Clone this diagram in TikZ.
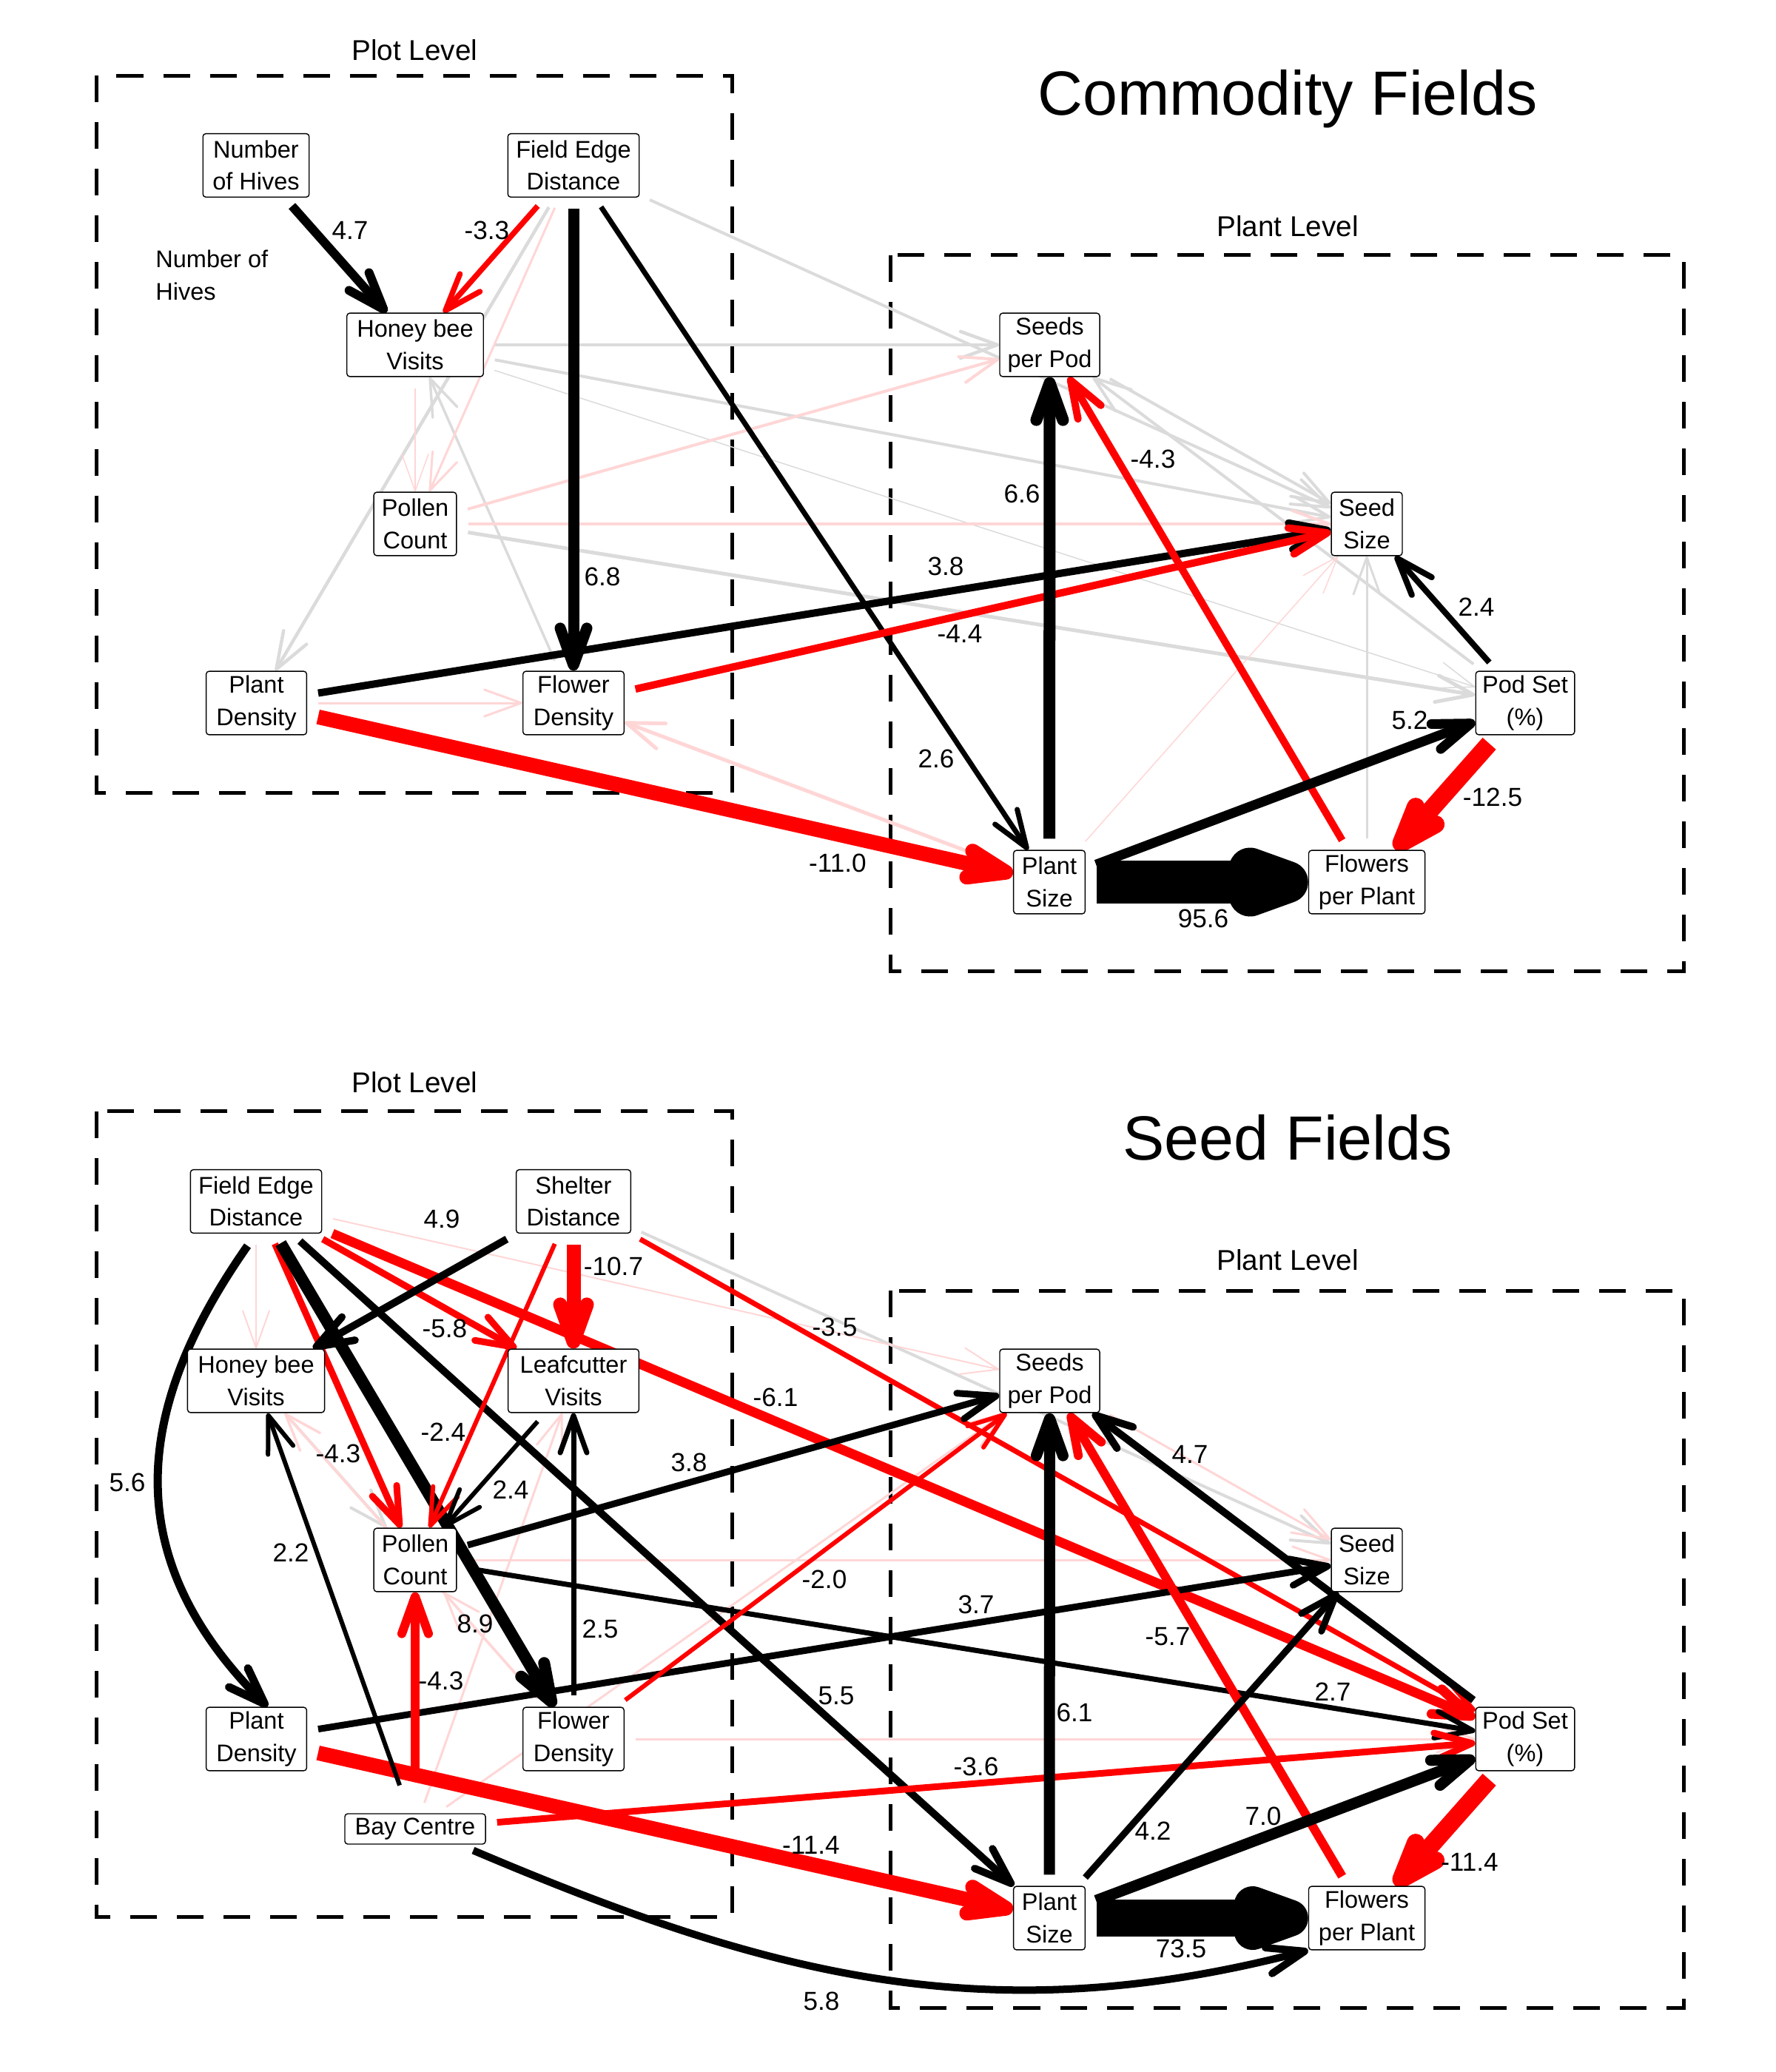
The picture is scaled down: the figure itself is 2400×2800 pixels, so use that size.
\documentclass[tikz,border=0pt]{standalone}
\usepackage{fontspec}
\setmainfont{Liberation Sans}
\usetikzlibrary{arrows.meta}
\pgfdeclarelayer{edgelayer}
\pgfsetlayers{edgelayer,main}
\newcommand\nfont{\fontsize{9.25}{12.4}\selectfont}
\newcommand\lfont{\fontsize{10}{12}\selectfont}
\newcommand\tfont{\fontsize{24}{28}\selectfont}
\newcommand\hfont{\fontsize{11}{13}\selectfont}
\begin{document}
\begin{tikzpicture}[x=0.01cm,y=-0.01cm,
  box/.style={draw=black, line width=0.014cm, rounded corners=0.04cm, fill=white, font=\nfont, align=center, inner xsep=0pt, inner ysep=0pt, minimum height=0.857cm},
  lab/.style={font=\lfont, inner sep=0pt},
  lvl/.style={font=\hfont, inner sep=0pt},
  dbox/.style={draw=black, line width=0.05cm, dash pattern=on 0.36cm off 0.27cm},
  ed/.style={-{Straight Barb[length=0.5cm,width=0.36cm,round]}, shorten <=0.15cm, line cap=butt},
  epos/.style={ed, draw=black},
  eneg/.style={ed, draw=red},
  egray/.style={ed, draw=black!14},
  epink/.style={ed, draw=red!16},
  lw/.style={line width=#1*0.1mm}
]
\useasboundingbox (0,0) rectangle (2400,2800);

% titles and level labels
\node[font=\tfont, inner sep=0pt] (title1) at (1740,134) {Commodity Fields};
\node[font=\tfont, inner sep=0pt] (title2) at (1740,1537) {Seed Fields};
\node[lvl] (plot1) at (560.5,68) {Plot Level};
\node[lvl] (plot2) at (560.5,1463) {Plot Level};
\node[lvl] (plant1) at (1740,306) {Plant Level};
\node[lvl] (plant2) at (1740,1703) {Plant Level};
\node[font=\nfont, anchor=west, align=left, inner sep=0pt] (hivenote) at (209.7,372) {Number of\\Hives};

% ---------- top panel nodes ----------
\node[box, minimum width=1.435cm] (T-NH) at (346,223.5) {Number\\of Hives};
\node[box, minimum width=1.773cm] (T-FED) at (775,223.5) {Field Edge\\Distance};
\node[box, minimum width=1.844cm] (T-HBV) at (561,466) {Honey bee\\Visits};
\node[box, minimum width=1.116cm] (T-PC) at (561,708) {Pollen\\Count};
\node[box, minimum width=1.358cm] (T-PD) at (346.5,950) {Plant\\Density};
\node[box, minimum width=1.365cm] (T-FD) at (775,950) {Flower\\Density};
\node[box, minimum width=1.35cm] (T-SPP) at (1418.5,466) {Seeds\\per Pod};
\node[box, minimum width=0.958cm] (T-SS) at (1847,708) {Seed\\Size};
\node[box, minimum width=1.335cm] (T-PS) at (2061,950) {Pod Set\\(\%)};
\node[box, minimum width=0.967cm] (T-PlS) at (1418,1192) {Plant\\Size};
\node[box, minimum width=1.57cm] (T-FPP) at (1847,1192) {Flowers\\per Plant};

% ---------- bottom panel nodes ----------
\node[box, minimum width=1.773cm] (B-FED) at (346,1623.5) {Field Edge\\Distance};
\node[box, minimum width=1.546cm] (B-SD) at (775,1623.5) {Shelter\\Distance};
\node[box, minimum width=1.85cm] (B-HBV) at (346,1866) {Honey bee\\Visits};
\node[box, minimum width=1.767cm] (B-LV) at (775,1866) {Leafcutter\\Visits};
\node[box, minimum width=1.116cm] (B-PC) at (561,2108) {Pollen\\Count};
\node[box, minimum width=1.358cm] (B-PD) at (346.5,2350) {Plant\\Density};
\node[box, minimum width=1.365cm] (B-FD) at (775,2350) {Flower\\Density};
\node[box, minimum width=1.9cm, minimum height=0.41cm] (B-BC) at (561,2471.5) {Bay Centre};
\node[box, minimum width=1.35cm] (B-SPP) at (1418.5,1866) {Seeds\\per Pod};
\node[box, minimum width=0.958cm] (B-SS) at (1847,2108) {Seed\\Size};
\node[box, minimum width=1.335cm] (B-PS) at (2061,2350) {Pod Set\\(\%)};
\node[box, minimum width=0.967cm] (B-PlS) at (1418,2592) {Plant\\Size};
\node[box, minimum width=1.57cm] (B-FPP) at (1847,2592) {Flowers\\per Plant};

\begin{pgfonlayer}{edgelayer}
% dashed level boxes
\draw[dbox] (130.6,102.2) rectangle (989.6,1071.2);
\draw[dbox] (1203.6,344.9) rectangle (2275.8,1312.5);
\draw[dbox] (130.6,1501.9) rectangle (989.6,2590.9);
\draw[dbox] (1203.6,1744.2) rectangle (2275.8,2713);

% ---------- top panel: non-significant ----------
\draw[egray, lw=4] (T-FED) -- (T-SS);
\draw[egray, lw=4.5] (T-FED) -- (T-PD);
\draw[egray, lw=4.5] (T-HBV) -- (T-SPP);
\draw[egray, lw=4] (T-HBV) -- (T-SS);
\draw[egray, lw=1.5] (T-HBV) -- (T-PS);
\draw[egray, lw=3.5] (T-FD) -- (T-HBV);
\draw[egray, lw=5] (T-PC) -- (T-PS);
\draw[egray, lw=3] (T-FPP) -- (T-SS);
\draw[egray, lw=4] (T-SPP) -- (T-SS);
\draw[egray, lw=4] (T-PS) -- (T-SPP);
\draw[epink, lw=3] (T-FED) -- (T-PC);
\draw[epink, lw=1.5] (T-HBV) -- (T-PC);
\draw[epink, lw=4] (T-PC) -- (T-SPP);
\draw[epink, lw=4] (T-PC) -- (T-SS);
\draw[epink, lw=3] (T-PD) -- (T-FD);
\draw[epink, lw=5] (T-PlS) -- (T-FD);
\draw[epink, lw=1.5] (T-PlS) -- (T-SS);

% ---------- top panel: significant ----------
\draw[epos, lw=12] (T-NH) -- (T-HBV);
\draw[eneg, lw=7.5] (T-FED) -- (T-HBV);
\draw[epos, lw=15] (T-FED) -- (T-FD);
\draw[epos, lw=7] (T-FED) -- (T-PlS);
\draw[epos, lw=10] (T-PD) -- (T-SS);
\draw[eneg, lw=10] (T-FD) -- (T-SS);
\draw[eneg, lw=20] (T-PD) -- (T-PlS);
\draw[epos, lw=16] (T-PlS) -- (T-SPP);
\draw[eneg, lw=10] (T-FPP) -- (T-SPP);
\draw[epos, lw=8] (T-PS) -- (T-SS);
\draw[epos, lw=13] (T-PlS) -- (T-PS);
\draw[eneg, lw=24] (T-PS) -- (T-FPP);
\draw[epos, lw=57] (T-PlS) -- (T-FPP);

% ---------- bottom panel: non-significant ----------
\draw[egray, lw=4] (B-SD) -- (B-SS);
\draw[egray, lw=4] (B-HBV) -- (B-PC);
\draw[epink, lw=2] (B-FED) -- (B-HBV);
\draw[epink, lw=2] (B-FED) -- (B-SPP);
\draw[epink, lw=3.5] (B-FD) -- (B-HBV);
\draw[epink, lw=3] (B-FD) -- (B-PC);
\draw[epink, lw=3] (B-BC) -- (B-LV);
\draw[epink, lw=3] (B-BC) -- (B-SPP);
\draw[epink, lw=3] (B-PC) -- (B-SS);
\draw[epink, lw=3] (B-FD) -- (B-PS);
\draw[epink, lw=3] (B-SPP) -- (B-SS);

% ---------- bottom panel: significant ----------
\draw[epos, lw=11, shorten <=0.2cm] (B-FED.south) to[out=-125, in=135, looseness=1.15] ([xshift=0.15cm]B-PD.north);
\draw[eneg, lw=9] (B-FED) -- (B-PC);
\draw[epos, lw=16] (B-FED) -- (B-FD);
\draw[epos, lw=10] (B-FED) -- (B-PlS);
\draw[eneg, lw=9] (B-FED) -- (B-LV);
\draw[eneg, lw=13] (B-FED) -- (B-PS);
\draw[epos, lw=10] (B-SD) -- (B-HBV);
\draw[eneg, lw=6] (B-SD) -- (B-PC);
\draw[eneg, lw=19] (B-SD) -- (B-LV);
\draw[eneg, lw=7] (B-SD) -- (B-PS);
\draw[epos, lw=6] (B-LV) -- (B-PC);
\draw[epos, lw=7] (B-FD) -- (B-LV);
\draw[epos, lw=9] (B-PC) -- (B-SPP);
\draw[epos, lw=7] (B-PC) -- (B-PS);
\draw[epos, lw=9] (B-PD) -- (B-SS);
\draw[eneg, lw=20] (B-PD) -- (B-PlS);
\draw[eneg, lw=6] (B-FD) -- (B-SPP);
\draw[eneg, lw=12, shorten <=0.6cm] (B-BC) -- (B-PC);
\draw[epos, lw=6, shorten <=0.4cm] (B-BC) -- (B-HBV);
\draw[eneg, lw=9] (B-BC) -- (B-PS);
\draw[epos, lw=10, shorten <=0.2cm] ([xshift=0.6cm]B-BC.south) to[out=-23, in=194.6, looseness=1] (B-FPP.south west);
\draw[epos, lw=15] (B-PlS) -- (B-SPP);
\draw[eneg, lw=12] (B-FPP) -- (B-SPP);
\draw[epos, lw=10] (B-PS) -- (B-SPP);
\draw[epos, lw=9] (B-PlS) -- (B-SS);
\draw[epos, lw=15] (B-PlS) -- (B-PS);
\draw[eneg, lw=24] (B-PS) -- (B-FPP);
\draw[epos, lw=50] (B-PlS) -- (B-FPP);
\end{pgfonlayer}

% ---------- edge labels, top ----------
\node[lab] (tl1) at (473,311) {4.7};
\node[lab] (tl2) at (658,311) {-3.3};
\node[lab] (tl3) at (814,779) {6.8};
\node[lab] (tl4) at (1278,765) {3.8};
\node[lab] (tl5) at (1297,856) {-4.4};
\node[lab] (tl6) at (1558,620) {-4.3};
\node[lab] (tl7) at (1381,667) {6.6};
\node[lab] (tl8) at (1995,820) {2.4};
\node[lab] (tl9) at (1905,973) {5.2};
\node[lab] (tl10) at (1265,1025) {2.6};
\node[lab] (tl11) at (2017,1077) {-12.5};
\node[lab] (tl12) at (1626,1241) {95.6};
\node[lab] (tl13) at (1132,1166) {-11.0};

% ---------- edge labels, bottom ----------
\node[lab] (bl1) at (597,1647) {4.9};
\node[lab] (bl2) at (829,1711) {-10.7};
\node[lab] (bl3) at (601,1795) {-5.8};
\node[lab] (bl4) at (1048,1888) {-6.1};
\node[lab] (bl5) at (599,1935) {-2.4};
\node[lab] (bl6) at (457,1964) {-4.3};
\node[lab] (bl7) at (690,2013) {2.4};
\node[lab] (bl8) at (931,1976) {3.8};
\node[lab] (bl9) at (172,2003) {5.6};
\node[lab] (bl10) at (393,2098) {2.2};
\node[lab] (bl11) at (642,2194) {8.9};
\node[lab] (bl12) at (811,2201) {2.5};
\node[lab] (bl13) at (596,2271) {-4.3};
\node[lab] (bl14) at (1096,2493) {-11.4};
\node[lab] (bl15) at (1110,2704) {5.8};
\node[lab] (bl16) at (1128,1793) {-3.5};
\node[lab] (bl17) at (1114,2134) {-2.0};
\node[lab] (bl18) at (1130,2292) {5.5};
\node[lab] (bl19) at (1608,1965) {4.7};
\node[lab] (bl20) at (1319,2168) {3.7};
\node[lab] (bl21) at (1578,2212) {-5.7};
\node[lab] (bl22) at (1801,2286) {2.7};
\node[lab] (bl23) at (1452,2314) {6.1};
\node[lab] (bl24) at (1319,2387) {-3.6};
\node[lab] (bl25) at (1707,2454) {7.0};
\node[lab] (bl26) at (1558,2474) {4.2};
\node[lab] (bl27) at (1986,2516) {-11.4};
\node[lab] (bl28) at (1596,2633) {73.5};
\end{tikzpicture}
\end{document}
